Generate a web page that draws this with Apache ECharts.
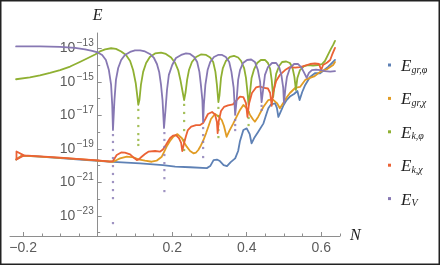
<!DOCTYPE html>
<html><head><meta charset="utf-8">
<script src="https://cdn.jsdelivr.net/npm/echarts@6/dist/echarts.min.js"></script>
<style>html,body{margin:0;padding:0;background:#fff}#c{width:440px;height:265px}</style>
</head><body><div id="c"></div><script>
// Values: [N, log10(E)]
const egrPhi = [[-0.219,-19.64],[-0.203,-19.40],[-0.155,-19.47],[-0.101,-19.56],[-0.048,-19.64],[0,-19.71],[0.041,-19.78],[0.114,-19.87],[0.175,-19.97],[0.208,-20.06],[0.248,-20.10],[0.293,-20.15],[0.302,-20.03],[0.311,-19.67],[0.320,-19.64],[0.328,-19.73],[0.338,-19.97],[0.347,-20.03],[0.357,-19.79],[0.369,-19.57],[0.377,-19.13],[0.382,-18.53],[0.391,-17.88],[0.400,-17.78],[0.408,-18.12],[0.413,-18.67],[0.420,-18.36],[0.431,-17.98],[0.445,-17.48],[0.452,-16.98],[0.458,-16.58],[0.465,-16.36],[0.476,-16.28],[0.481,-16.56],[0.485,-17.10],[0.491,-16.80],[0.498,-16.44],[0.507,-16.09],[0.516,-15.88],[0.527,-15.73],[0.536,-15.55],[0.542,-16.09],[0.549,-15.61],[0.557,-15.19],[0.570,-14.71],[0.583,-14.49],[0.597,-14.49],[0.608,-14.30],[0.619,-14.10],[0.629,-13.88],[0.637,-13.70]];
const egrChi = [[-0.219,-19.64],[-0.203,-19.40],[-0.155,-19.46],[-0.101,-19.54],[-0.048,-19.62],[0,-19.70],[0.041,-19.77],[0.051,-19.67],[0.060,-19.57],[0.078,-19.47],[0.096,-19.51],[0.109,-19.63],[0.127,-19.71],[0.145,-19.77],[0.158,-19.71],[0.172,-19.47],[0.178,-19.19],[0.185,-18.87],[0.194,-18.53],[0.203,-18.28],[0.214,-18.12],[0.226,-18.37],[0.232,-18.62],[0.239,-18.87],[0.248,-19.13],[0.257,-19.27],[0.264,-19.22],[0.270,-19.07],[0.277,-18.80],[0.284,-18.47],[0.291,-18.06],[0.297,-17.68],[0.304,-17.22],[0.315,-16.92],[0.323,-17.04],[0.333,-17.28],[0.339,-17.64],[0.346,-18.28],[0.353,-17.94],[0.364,-17.48],[0.373,-17.08],[0.382,-16.68],[0.391,-16.38],[0.400,-16.58],[0.409,-16.98],[0.417,-17.25],[0.422,-17.38],[0.431,-17.08],[0.445,-16.49],[0.458,-16.09],[0.469,-16.03],[0.481,-16.27],[0.489,-16.58],[0.498,-16.27],[0.508,-15.91],[0.516,-15.67],[0.530,-15.37],[0.543,-15.31],[0.557,-14.89],[0.570,-14.77],[0.581,-14.68],[0.597,-14.41],[0.616,-14.24],[0.632,-14.00],[0.637,-13.82]];
const ekPhi = [[-0.219,-14.85],[-0.182,-14.74],[-0.155,-14.62],[-0.128,-14.47],[-0.101,-14.30],[-0.074,-14.09],[-0.048,-13.82],[-0.026,-13.58],[-0.007,-13.37],[0,-13.28],[0.006,-13.19],[0.020,-13.07],[0.036,-13.00],[0.049,-13.04],[0.063,-13.19],[0.076,-13.40],[0.087,-13.76],[0.095,-14.30],[0.102,-15.07],[0.106,-15.79],[0.109,-16.38],[0.112,-16.09],[0.116,-15.19],[0.122,-14.41],[0.130,-13.88],[0.140,-13.52],[0.154,-13.31],[0.170,-13.26],[0.183,-13.34],[0.197,-13.55],[0.208,-13.88],[0.216,-14.30],[0.222,-14.89],[0.228,-15.61],[0.232,-16.09],[0.236,-15.61],[0.240,-14.89],[0.245,-14.30],[0.253,-13.82],[0.264,-13.52],[0.277,-13.37],[0.291,-13.40],[0.302,-13.55],[0.310,-13.82],[0.316,-14.41],[0.320,-15.19],[0.324,-16.21],[0.327,-15.79],[0.331,-14.77],[0.336,-14.18],[0.344,-13.76],[0.355,-13.52],[0.366,-13.46],[0.377,-13.55],[0.385,-13.76],[0.393,-14.18],[0.398,-14.77],[0.402,-15.61],[0.405,-16.38],[0.409,-15.61],[0.413,-14.77],[0.420,-14.24],[0.428,-13.88],[0.438,-13.70],[0.449,-13.70],[0.457,-13.88],[0.463,-14.24],[0.467,-14.89],[0.471,-15.91],[0.475,-15.19],[0.479,-14.53],[0.487,-14.06],[0.495,-13.82],[0.506,-13.79],[0.516,-13.88],[0.523,-14.18],[0.528,-14.71],[0.532,-15.49],[0.536,-14.77],[0.543,-14.30],[0.554,-14.06],[0.565,-14.00],[0.578,-14.03],[0.591,-14.00],[0.602,-13.94],[0.610,-13.76],[0.618,-13.40],[0.626,-13.04],[0.632,-12.80],[0.637,-12.56]];
const ekPhiDips = [[0.109,-16.68],[0.109,-17.16],[0.109,-17.64],[0.109,-18.12],[0.109,-18.47],[0.109,-18.77],[0.232,-16.38],[0.232,-16.86],[0.232,-17.34],[0.232,-17.88],[0.232,-18.47],[0.232,-19.07],[0.324,-16.56],[0.324,-17.04],[0.324,-17.52],[0.324,-17.88],[0.324,-18.30],[0.405,-16.80],[0.405,-17.16],[0.405,-17.58]];
const ekChi = [[-0.198,-19.39],[-0.218,-19.16],[-0.218,-19.64],[-0.198,-19.39],[-0.155,-19.45],[-0.101,-19.53],[-0.048,-19.61],[0,-19.69],[0.033,-19.76],[0.041,-19.73],[0.051,-19.37],[0.063,-19.22],[0.073,-19.23],[0.087,-19.33],[0.098,-19.55],[0.105,-19.67],[0.111,-19.61],[0.118,-19.47],[0.127,-19.31],[0.136,-19.17],[0.154,-19.13],[0.167,-19.17],[0.175,-19.04],[0.183,-18.77],[0.194,-18.37],[0.202,-18.21],[0.210,-18.18],[0.218,-18.36],[0.224,-18.65],[0.227,-19.13],[0.232,-18.65],[0.237,-18.24],[0.242,-17.88],[0.251,-17.67],[0.264,-17.58],[0.275,-17.58],[0.283,-17.46],[0.289,-17.22],[0.296,-16.92],[0.307,-16.80],[0.315,-16.95],[0.320,-17.40],[0.322,-18.06],[0.325,-17.34],[0.331,-16.74],[0.339,-16.50],[0.350,-16.41],[0.363,-16.35],[0.373,-16.09],[0.382,-15.88],[0.391,-15.91],[0.398,-16.27],[0.402,-17.10],[0.406,-16.33],[0.414,-15.67],[0.425,-15.34],[0.436,-15.28],[0.447,-15.37],[0.457,-15.40],[0.463,-15.67],[0.467,-16.44],[0.471,-15.61],[0.479,-14.95],[0.489,-14.59],[0.503,-14.30],[0.516,-14.12],[0.530,-14.15],[0.543,-14.12],[0.557,-14.03],[0.570,-13.94],[0.583,-13.91],[0.594,-13.94],[0.600,-14.30],[0.605,-14.00],[0.616,-13.85],[0.624,-13.70],[0.629,-13.40],[0.637,-12.98]];
const eV = [[-0.219,-12.89],[-0.155,-12.89],[-0.101,-12.92],[-0.061,-12.98],[-0.034,-13.07],[-0.015,-13.16],[0,-13.25],[0.012,-13.40],[0.022,-13.70],[0.030,-14.30],[0.036,-15.19],[0.039,-16.38],[0.041,-17.88],[0.045,-16.09],[0.049,-14.89],[0.055,-14.18],[0.063,-13.70],[0.073,-13.40],[0.087,-13.22],[0.100,-13.13],[0.114,-13.13],[0.127,-13.19],[0.140,-13.34],[0.151,-13.58],[0.159,-13.94],[0.165,-14.41],[0.170,-15.19],[0.174,-16.09],[0.178,-17.76],[0.182,-16.68],[0.186,-15.49],[0.191,-14.59],[0.200,-14.00],[0.210,-13.58],[0.224,-13.40],[0.237,-13.31],[0.248,-13.34],[0.259,-13.52],[0.267,-13.82],[0.273,-14.41],[0.277,-15.19],[0.281,-16.09],[0.283,-17.40],[0.285,-16.38],[0.289,-15.19],[0.295,-14.30],[0.302,-13.82],[0.312,-13.52],[0.323,-13.40],[0.334,-13.40],[0.344,-13.52],[0.353,-13.82],[0.359,-14.41],[0.365,-15.37],[0.369,-16.98],[0.373,-16.09],[0.377,-14.89],[0.382,-14.30],[0.390,-13.88],[0.401,-13.70],[0.412,-13.67],[0.422,-13.82],[0.430,-14.30],[0.436,-15.01],[0.440,-16.21],[0.444,-15.49],[0.449,-14.59],[0.457,-14.12],[0.468,-13.88],[0.479,-13.88],[0.487,-14.12],[0.493,-14.59],[0.498,-15.37],[0.500,-16.27],[0.504,-15.37],[0.508,-14.71],[0.516,-14.18],[0.527,-13.94],[0.538,-13.94],[0.546,-14.12],[0.553,-14.41],[0.561,-14.77],[0.567,-14.47],[0.575,-14.30],[0.586,-14.27],[0.597,-14.30],[0.610,-14.36],[0.624,-14.39],[0.637,-14.36]];
const eVDips = [[0.041,-18.18],[0.041,-18.59],[0.041,-19.07],[0.041,-19.55],[0.041,-20.03],[0.041,-20.50],[0.041,-20.98],[0.041,-21.46],[0.041,-21.94],[0.041,-23.43],[0.179,-18.06],[0.179,-18.47],[0.179,-18.89],[0.179,-19.37],[0.179,-19.85],[0.179,-20.27],[0.179,-20.75],[0.179,-21.52],[0.283,-17.76],[0.283,-18.18],[0.283,-18.59],[0.283,-18.95],[0.283,-19.49],[0.369,-17.28],[0.369,-17.58],[0.369,-17.88],[0.440,-16.44],[0.440,-16.68]];

const seriesNames = ['Egrphi','Egrchi','Ekphi','Ekchi','EV'];
const subscripts = {Egrphi:'gr,φ', Egrchi:'gr,χ', Ekphi:'k,φ', Ekchi:'k,χ', EV:'V'};
const colors = ['#5E81B5','#E19C24','#8FB032','#EB6235','#8778B3'];
const xLabelsPos = [0.2, 0.4, 0.6];
const xMajorPos = [0.2, 0.4, 0.6];
const xMinorPos = [0.05,0.1,0.15,0.25,0.3,0.35,0.45,0.5,0.55,0.65];
const xLabelsNeg = [-0.2];
const xMinorNeg = [-0.15,-0.1,-0.05];
const yMajor = [-23,-21,-19,-17,-15,-13];
const yMinor = [-24,-22,-20,-18,-16,-14];
const nMin = -0.2354, nMax = 0.6504, eMin = -24.2, eMax = -12.09;

const AX = '#8e8e8e', TXT = '#5c5c5c';
const lineData = [egrPhi, egrChi, ekPhi, ekChi, eV];
// The plot is split in two grids (N<0 and N>=0) so the vertical axis can sit at N = 0.
const series = [];
lineData.forEach((d,i)=>{
  let last = 0; d.forEach((p,k)=>{ if (p[0] <= 0) last = k; });
  const base = {name:seriesNames[i], type:'line', showSymbol:false, symbol:'none', clip:false,
    lineStyle:{color:colors[i], width:1.8, join:'round', cap:'round'}, itemStyle:{color:colors[i]},
    animation:false, silent:true, z:2+i};
  series.push(Object.assign({}, base, {data:d.slice(0, last+1), xAxisIndex:2, yAxisIndex:2}));
  series.push(Object.assign({}, base, {data:d.slice(last), xAxisIndex:0, yAxisIndex:0}));
});
series.push({name:'Ekphi', type:'scatter', data:ekPhiDips, xAxisIndex:0, yAxisIndex:0, clip:false, symbol:'rect', symbolSize:2.2, itemStyle:{color:colors[2]}, animation:false, silent:true, z:4});
series.push({name:'EV', type:'scatter', data:eVDips, xAxisIndex:0, yAxisIndex:0, clip:false, symbol:'rect', symbolSize:2.2, itemStyle:{color:colors[4]}, animation:false, silent:true, z:7});

const tickLabel = {color:TXT, fontSize:14, fontFamily:'Liberation Sans', margin:5,
  formatter:v=>(v<0?'−':'')+Math.abs(v).toFixed(1)};
const chart = echarts.init(document.getElementById('c'), null, {renderer:'canvas'});
chart.setOption({
  animation:false,
  color: colors,
  grid:[
    {left:97.7, right:100, top:33, bottom:29, containLabel:false, outerBoundsMode:'none'},
    {left:10, width:87.7, top:33, bottom:29, containLabel:false, outerBoundsMode:'none'}
  ],
  xAxis:[
    {gridIndex:0, type:'value', min:0, max:nMax, position:'bottom', splitLine:{show:false},
      axisLine:{onZero:false, lineStyle:{color:AX, width:1}},
      axisTick:{inside:true, length:4, customValues:xMajorPos, lineStyle:{color:AX}},
      axisLabel:Object.assign({customValues:xLabelsPos}, tickLabel),
      name:'N', nameLocation:'end', nameGap:10,
      nameTextStyle:{fontFamily:'Liberation Serif', fontStyle:'italic', fontSize:16, color:'#222'}},
    {gridIndex:0, type:'value', min:0, max:nMax, position:'bottom', splitLine:{show:false},
      axisLine:{show:false, onZero:false},
      axisTick:{inside:true, length:2.5, customValues:xMinorPos, lineStyle:{color:AX}},
      axisLabel:{show:false}},
    {gridIndex:1, type:'value', min:nMin, max:0, position:'bottom', splitLine:{show:false},
      axisLine:{onZero:false, lineStyle:{color:AX, width:1}},
      axisTick:{inside:true, length:4, customValues:xLabelsNeg, lineStyle:{color:AX}},
      axisLabel:Object.assign({customValues:xLabelsNeg}, tickLabel)},
    {gridIndex:1, type:'value', min:nMin, max:0, position:'bottom', splitLine:{show:false},
      axisLine:{show:false, onZero:false},
      axisTick:{inside:true, length:2.5, customValues:xMinorNeg, lineStyle:{color:AX}},
      axisLabel:{show:false}}
  ],
  yAxis:[
    {gridIndex:0, type:'value', min:eMin, max:eMax, position:'left', splitLine:{show:false},
      axisLine:{onZero:false, lineStyle:{color:AX, width:1}},
      axisTick:{inside:true, length:4, customValues:yMajor, lineStyle:{color:AX}},
      axisLabel:{customValues:yMajor, margin:4,
        formatter:v=>'{b|10}{s|−'+Math.abs(v)+'}',
        rich:{b:{fontSize:14, lineHeight:20, fontFamily:'Liberation Sans', color:TXT},
              s:{fontSize:10, lineHeight:10, verticalAlign:'top', fontFamily:'Liberation Sans', color:TXT, padding:[0,0,0,1.5]}}},
      name:'E', nameLocation:'end', nameGap:9,
      nameTextStyle:{fontFamily:'Liberation Serif', fontStyle:'italic', fontSize:16, color:'#222'}},
    {gridIndex:0, type:'value', min:eMin, max:eMax, position:'left', splitLine:{show:false},
      axisLine:{show:false, onZero:false},
      axisTick:{inside:true, length:2.5, customValues:yMinor, lineStyle:{color:AX}},
      axisLabel:{show:false}},
    {gridIndex:1, type:'value', min:eMin, max:eMax, show:false}
  ],
  legend:{
    orient:'vertical', left:383, top:53, itemWidth:3, itemHeight:3, itemGap:16.4,
    selectedMode:false, data:seriesNames.map(n=>({name:n, icon:'rect'})),
    formatter:n=>'{e|E}{s|'+subscripts[n]+'}',
    textStyle:{rich:{
      e:{fontFamily:'Liberation Serif', fontStyle:'italic', fontSize:17, lineHeight:20, verticalAlign:'bottom', color:'#222', padding:[0,0,0,5]},
      s:{fontFamily:'Liberation Serif', fontStyle:'italic', fontSize:10, lineHeight:10, verticalAlign:'bottom', color:'#222'}
    }}
  },
  graphic:[{type:'rect', shape:{x:0.75, y:0.75, width:438.5, height:263.5}, style:{fill:null, stroke:'#222', lineWidth:1.5}, silent:true}],
  series: series
});
</script></body></html>
